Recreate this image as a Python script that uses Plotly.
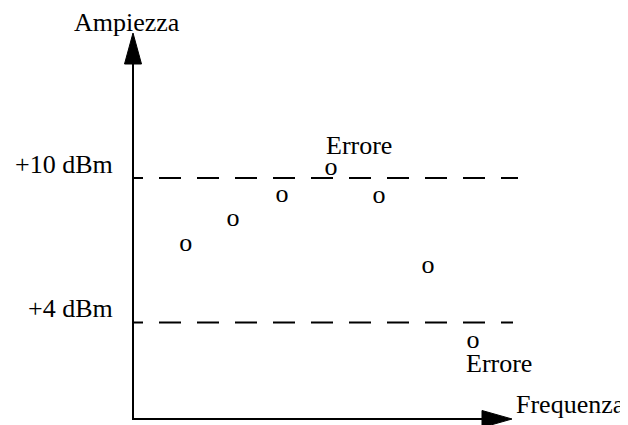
import plotly.graph_objects as go

# Dati (frequenza in unità arbitrarie, ampiezza in dBm)
FREQ = [1.09, 2.06, 3.07, 4.08, 5.07, 6.08, 7.01]
AMPL_DBM = [7.26, 8.26, 9.29, 10.41, 9.25, 6.31, 3.20]
ERROR_IDX = [3, 6]                    # punti fuori dai limiti
LIMITS_DBM = [10, 4]
LIMIT_LABELS = ["+10 dBm", "+4 dBm"]
X_LABEL = "Frequenza"
Y_LABEL = "Ampiezza"
ERROR_LABEL = "Errore"

W, H = 628, 425
PAGE_OFF = 8                          # margine di default del <body>
X0_PX, Y0_PX = 133, 419               # origine degli assi (pixel della pagina)
PX_PER_X, PX_PER_Y = 48.5, 24.1
FONT = dict(family="Liberation Serif, Times New Roman, serif", size=26, color="black")


def dx(px):
    return px / PX_PER_X


def dy(px):
    return px / PX_PER_Y


def to_x(px):
    return (px - X0_PX) / PX_PER_X


def to_y(py):
    return (Y0_PX - py) / PX_PER_Y


fig = go.Figure()

# linee limite tratteggiate
for lev, end_px in zip(LIMITS_DBM, [518, 513]):
    fig.add_trace(go.Scatter(
        x=[0, to_x(end_px)], y=[lev, lev], mode="lines",
        line=dict(color="black", width=2,
                  dash="10px,16px" + ",22px,16px" * 12),
        hoverinfo="skip", showlegend=False,
    ))

# punti disegnati come "o"
fig.add_trace(go.Scatter(
    x=FREQ, y=AMPL_DBM, mode="text", text=["o"] * len(FREQ),
    textposition="middle center", textfont=FONT,
    showlegend=False, hoverinfo="skip",
))

# assi con frecce
x_tip, y_tip = to_x(512), to_y(33)
head_len_x, head_len_y, half_w = 30, 31, 8.5
fig.add_shape(type="path", xref="x", yref="y",
              path=f"M0,{y_tip - dy(head_len_y)} L0,0 L{x_tip - dx(head_len_x)},0",
              line=dict(color="black", width=2))
fig.add_shape(type="path", xref="x", yref="y",
              path=(f"M{-dx(half_w)},{y_tip - dy(head_len_y)} L0,{y_tip} "
                    f"L{dx(half_w)},{y_tip - dy(head_len_y)} Z"),
              fillcolor="black", line=dict(color="black", width=1))
fig.add_shape(type="path", xref="x", yref="y",
              path=(f"M{x_tip - dx(head_len_x)},{dy(half_w)} L{x_tip},0 "
                    f"L{x_tip - dx(head_len_x)},{-dy(half_w)} Z"),
              fillcolor="black", line=dict(color="black", width=1))

annotations = [
    dict(x=to_x(127), y=to_y(30 - 8), text=Y_LABEL, xanchor="center"),
    dict(x=to_x(514), y=to_y(412 - 8), text=X_LABEL, xanchor="left"),
]
for lev, lab in zip(LIMITS_DBM, LIMIT_LABELS):
    annotations.append(dict(x=to_x(115), y=lev + dy(14), text=lab, xanchor="right"))

# etichette "Errore" sopra/sotto i punti fuori limite
for i, shift, xs in zip(ERROR_IDX, [23, -22], [-7, -9]):
    annotations.append(dict(x=FREQ[i], y=AMPL_DBM[i], text=ERROR_LABEL,
                            xanchor="left", xshift=xs, yshift=shift))

for a in annotations:
    a.update(xref="x", yref="y", showarrow=False, yanchor="middle", font=FONT)

fig.update_layout(
    width=W, height=H,
    margin=dict(l=0, r=0, t=0, b=0),
    paper_bgcolor="white", plot_bgcolor="white",
    # la pagina aggiunge 8 px di margine: si sposta l'origine di conseguenza
    xaxis=dict(range=[to_x(PAGE_OFF), to_x(PAGE_OFF + W)], visible=False, fixedrange=True),
    yaxis=dict(range=[to_y(PAGE_OFF + H), to_y(PAGE_OFF)], visible=False, fixedrange=True),
    annotations=annotations,
    showlegend=False,
)

fig.write_html("out.html")
